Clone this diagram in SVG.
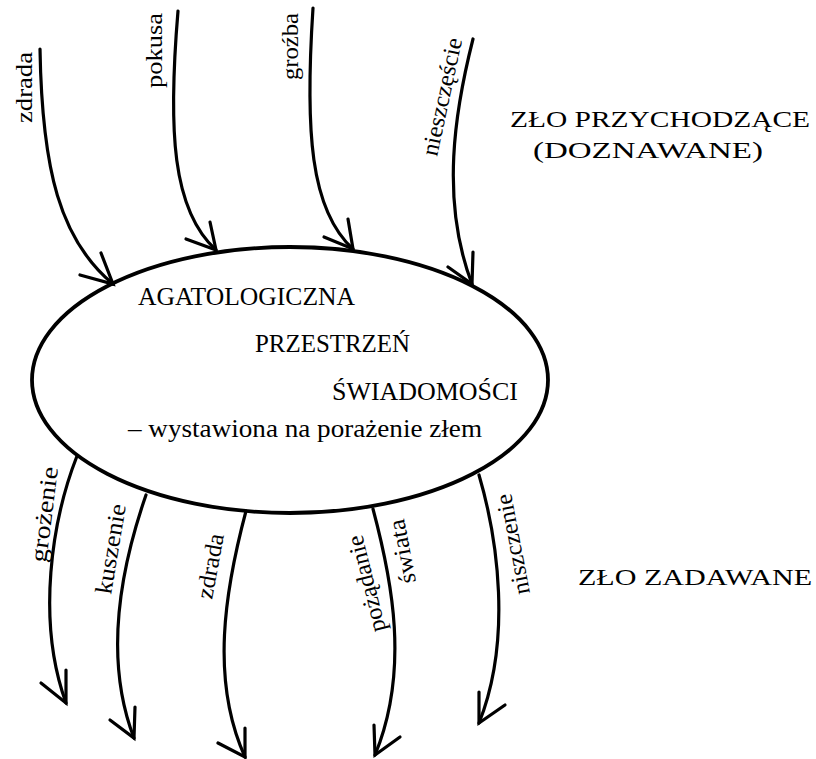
<svg xmlns="http://www.w3.org/2000/svg" width="816" height="759" viewBox="0 0 816 759">
<style>
.ln{fill:none;stroke:#000;stroke-width:3.2;stroke-linecap:round;stroke-linejoin:round}
.ah{fill:none;stroke:#000;stroke-width:3.2;stroke-linecap:round;stroke-linejoin:miter}
.lb{font-family:"Liberation Serif","Times New Roman",serif;font-size:24px;fill:#000}
.cap{font-family:"Liberation Serif","Times New Roman",serif;font-size:24px;fill:#000}
.in{font-family:"Liberation Serif","Times New Roman",serif;font-size:25px;fill:#000}
</style>
<rect width="816" height="759" fill="#fff"/>
<g id="space">
<ellipse cx="290" cy="380" rx="258" ry="133" fill="none" stroke="#000" stroke-width="3.8"/>
<text class="in" x="138" y="305" textLength="217" lengthAdjust="spacingAndGlyphs">AGATOLOGICZNA</text>
<text class="in" x="255" y="352" textLength="155" lengthAdjust="spacingAndGlyphs">PRZESTRZEŃ</text>
<text class="in" x="332" y="400" textLength="186" lengthAdjust="spacingAndGlyphs">ŚWIADOMOŚCI</text>
<text class="in" x="128" y="437" font-size="26" textLength="354" lengthAdjust="spacingAndGlyphs">– wystawiona na porażenie złem</text>
</g>
<g id="title-incoming">
<text class="cap" x="510" y="127" textLength="300" lengthAdjust="spacingAndGlyphs">ZŁO PRZYCHODZĄCE</text>
<text class="cap" x="533" y="158" textLength="230" lengthAdjust="spacingAndGlyphs">(DOZNAWANE)</text>
</g>
<g id="title-outgoing">
<text class="cap" x="578" y="585" textLength="234" lengthAdjust="spacingAndGlyphs">ZŁO ZADAWANE</text>
</g>
<g id="connectors">
<path class="ln" d="M40,49 C42,170 60,240 113,284"/>
<polyline class="ah" points="101,253 113,284 80,275"/>
<path class="ln" d="M178,11 C168,130 172,210 216,250"/>
<polyline class="ah" points="210,222 216,250 186,239"/>
<path class="ln" d="M313,8 C305,130 310,210 353,249"/>
<polyline class="ah" points="348,219 353,249 324,237"/>
<path class="ln" d="M473,39 C455,110 440,200 472,284"/>
<polyline class="ah" points="473,252 472,284 448,267"/>
<path class="ln" d="M77,456 C52,520 36,620 66,703"/>
<polyline class="ah" points="66,670 66,703 41,683"/>
<path class="ln" d="M146,495 C120,570 104,660 134,738"/>
<polyline class="ah" points="135,707 134,738 110,720"/>
<path class="ln" d="M246,511 C225,590 210,680 245,757"/>
<polyline class="ah" points="245,728 245,757 218,743"/>
<path class="ln" d="M373,509 C392,580 410,670 375,755"/>
<polyline class="ah" points="374,725 375,755 400,737"/>
<path class="ln" d="M479,475 C498,540 512,640 479,723"/>
<polyline class="ah" points="479,692 479,723 505,705"/>
</g>
<g id="labels">
<text class="lb" transform="translate(32,123) rotate(-90)" textLength="71" lengthAdjust="spacingAndGlyphs">zdrada</text>
<text class="lb" transform="translate(161.5,88) rotate(-90)" textLength="75" lengthAdjust="spacingAndGlyphs">pokusa</text>
<text class="lb" transform="translate(298,80) rotate(-90)" textLength="67" lengthAdjust="spacingAndGlyphs">groźba</text>
<text class="lb" transform="translate(437,157) rotate(-77.9)" textLength="120" lengthAdjust="spacingAndGlyphs">nieszczęście</text>
<text class="lb" transform="translate(46,563) rotate(-82.8)" textLength="96" lengthAdjust="spacingAndGlyphs">grożenie</text>
<text class="lb" transform="translate(111,595) rotate(-80.5)" textLength="91" lengthAdjust="spacingAndGlyphs">kuszenie</text>
<text class="lb" transform="translate(212,600) rotate(-79.5)" textLength="66" lengthAdjust="spacingAndGlyphs">zdrada</text>
<text class="lb" transform="translate(386,630) rotate(-104)" textLength="99" lengthAdjust="spacingAndGlyphs">pożądanie</text>
<text class="lb" transform="translate(416,582) rotate(-100.6)" textLength="65" lengthAdjust="spacingAndGlyphs">świata</text>
<text class="lb" transform="translate(530,593) rotate(-100.8)" textLength="102" lengthAdjust="spacingAndGlyphs">niszczenie</text>
</g>
</svg>
